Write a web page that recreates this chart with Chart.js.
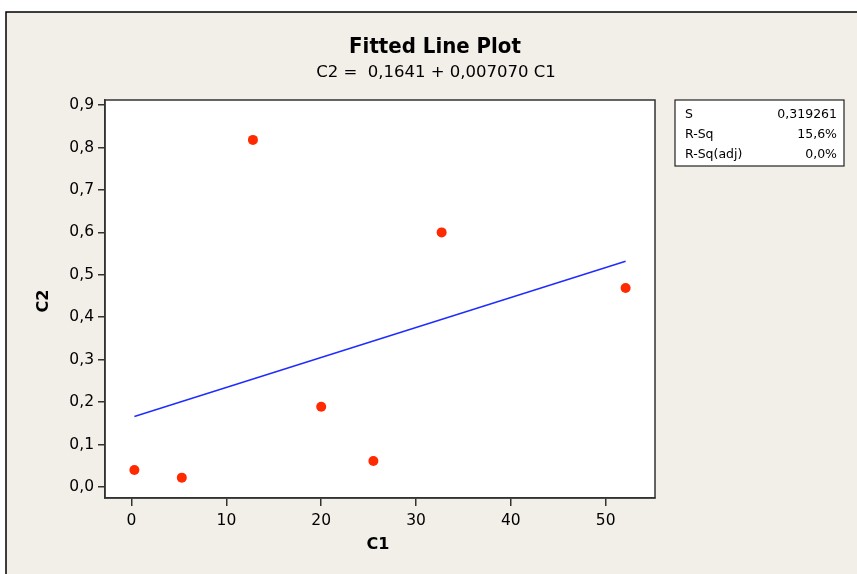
<!DOCTYPE html>
<html>
<head>
<meta charset="utf-8">
<script src="https://cdn.jsdelivr.net/npm/chart.js@4.4.0/dist/chart.umd.min.js"></script>
<style>
  html, body { margin: 0; padding: 0; background: #fff; }
  #wrap { width: 857px; height: 574px; position: relative; }
</style>
</head>
<body>
<div id="wrap"><canvas id="chart-container-1"></canvas></div>
<script>
// observed values
const c1 = [0.3, 5.3, 12.8, 20.0, 25.5, 32.7, 52.1];
const c2 = [0.040, 0.022, 0.818, 0.189, 0.061, 0.600, 0.469];

// fitted line ends (C2 = 0,1641 + 0,007070 C1)
const fitC1 = [0.3, 52.1];
const fitC2 = [0.166, 0.532];

const xTicks = [0, 10, 20, 30, 40, 50];
const yTicks = [0, 0.1, 0.2, 0.3, 0.4, 0.5, 0.6, 0.7, 0.8, 0.9];

const titleText = "Fitted Line Plot";
const subtitleText = "C2 =  0,1641 + 0,007070 C1";
const statLabels = ["S", "R-Sq", "R-Sq(adj)"];
const statValues = ["0,319261", "15,6%", "0,0%"];

const bg = "#f2efe8";
const axisColor = "#333333";

const pagePlugin = {
  id: "page",
  beforeDraw(chart) {
    const { ctx, chartArea: a } = chart;
    ctx.save();
    ctx.fillStyle = "#ffffff";
    ctx.fillRect(0, 0, chart.width, chart.height);
    ctx.fillStyle = bg;
    ctx.fillRect(6, 12, chart.width - 6, chart.height - 12);
    ctx.strokeStyle = "#000";
    ctx.lineWidth = 1.5;
    ctx.beginPath();
    ctx.moveTo(6, chart.height);
    ctx.lineTo(6, 12);
    ctx.lineTo(chart.width, 12);
    ctx.stroke();
    ctx.fillStyle = "#ffffff";
    ctx.fillRect(a.left, a.top, a.right - a.left, a.bottom - a.top);
    ctx.restore();
  },
  afterDraw(chart) {
    const { ctx, chartArea: a } = chart;
    ctx.save();
    // plot frame
    ctx.strokeStyle = axisColor;
    ctx.lineWidth = 1.5;
    ctx.strokeRect(a.left, a.top, a.right - a.left, a.bottom - a.top);

    // titles
    ctx.fillStyle = "#000";
    ctx.textAlign = "center";
    ctx.textBaseline = "alphabetic";
    ctx.font = "bold 22px 'DejaVu Sans Condensed', 'DejaVu Sans', sans-serif";
    ctx.fillText(titleText, 435, 53);
    ctx.font = "16.5px 'DejaVu Sans', sans-serif";
    ctx.fillText(subtitleText, 436, 77);

    // axis titles
    ctx.font = "bold 16px 'DejaVu Sans', sans-serif";
    ctx.textBaseline = "middle";
    ctx.fillText("C1", 378, 545);
    ctx.save();
    ctx.translate(44, 301);
    ctx.rotate(-Math.PI / 2);
    ctx.fillText("C2", 0, 0);
    ctx.restore();

    // stats box
    ctx.fillStyle = "#ffffff";
    ctx.fillRect(675, 100, 169, 66);
    ctx.strokeStyle = "#222";
    ctx.lineWidth = 1.2;
    ctx.strokeRect(675, 100, 169, 66);
    ctx.fillStyle = "#000";
    ctx.font = "12.5px 'DejaVu Sans', sans-serif";
    const rowY = [115, 135, 155];
    for (let i = 0; i < statLabels.length; i++) {
      ctx.textAlign = "left";
      ctx.fillText(statLabels[i], 685, rowY[i]);
      ctx.textAlign = "right";
      ctx.fillText(statValues[i], 837, rowY[i]);
    }
    ctx.restore();
  },
};

const fmt = (v, d) => v.toFixed(d).replace(".", ",");

new Chart(document.getElementById("chart-container-1"), {
  type: "scatter",
  data: {
    datasets: [
      {
        label: "Regression",
        type: "line",
        data: fitC1.map((x, i) => ({ x: x, y: fitC2[i] })),
        borderColor: "#1f2cff",
        borderWidth: 1.4,
        pointRadius: 0,
        fill: false,
        tension: 0,
      },
      {
        label: "Data",
        data: c1.map((x, i) => ({ x: x, y: c2[i] })),
        backgroundColor: "#ff2a00",
        borderWidth: 0,
        pointRadius: 5,
      },
    ],
  },
  options: {
    responsive: true,
    maintainAspectRatio: false,
    animation: false,
    layout: { padding: { top: 100, right: 202, left: 0, bottom: 0 } },
    plugins: {
      legend: { display: false },
      tooltip: { enabled: false },
    },
    scales: {
      x: {
        type: "linear",
        min: -2.8,
        max: 55.2,
        afterBuildTicks: (s) => { s.ticks = xTicks.map((v) => ({ value: v })); },
        afterFit: (s) => { s.height = 76; },
        ticks: {
          color: "#000",
          font: { family: "'DejaVu Sans', sans-serif", size: 15.5 },
          padding: 6,
          callback: (v) => fmt(v, 0),
        },
        grid: { drawOnChartArea: false, drawTicks: true, tickLength: 8, color: axisColor, lineWidth: 1.5 },
        border: { display: true, color: axisColor, width: 1.5 },
      },
      y: {
        type: "linear",
        min: -0.026,
        max: 0.912,
        afterBuildTicks: (s) => { s.ticks = yTicks.map((v) => ({ value: v })); },
        afterFit: (s) => { s.width = 105; },
        ticks: {
          color: "#000",
          font: { family: "'DejaVu Sans', sans-serif", size: 15.5 },
          padding: 4,
          callback: (v) => fmt(v, 1),
        },
        grid: { drawOnChartArea: false, drawTicks: true, tickLength: 7, color: axisColor, lineWidth: 1.5 },
        border: { display: true, color: axisColor, width: 1.5 },
      },
    },
  },
  plugins: [pagePlugin],
});
</script>
</body>
</html>
